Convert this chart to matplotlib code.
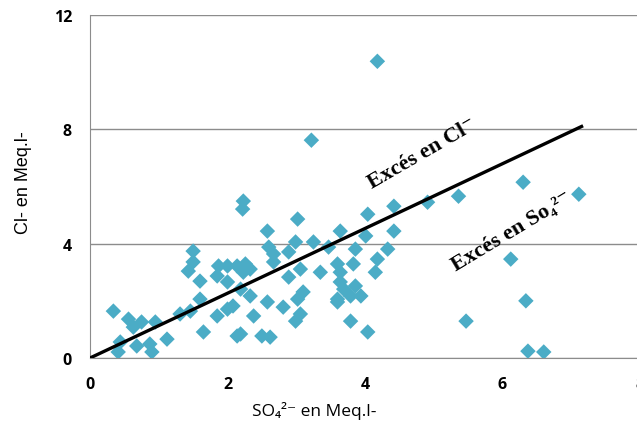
import matplotlib.pyplot as plt
import numpy as np

# SO4 (x) and Cl (y) in Meq/l
so4 = [0.34, 0.56, 0.63, 0.75, 0.95, 0.44, 0.41, 0.68, 0.87, 0.90, 1.12,
       1.31, 1.46, 1.60, 1.65, 1.60, 1.43, 1.50, 1.50, 1.85, 1.87, 2.00,
       2.00, 2.14, 2.23, 1.85, 2.00, 2.08, 2.14, 2.23, 2.22, 3.02, 2.58,
       4.04, 4.42, 3.64, 4.42, 4.01, 2.99, 3.25, 2.60, 2.89, 2.67, 3.47,
       3.86, 4.33, 2.26, 2.33, 2.67, 3.06, 2.89, 3.35, 3.60, 3.64, 3.83,
       4.18, 4.15, 2.33, 2.19, 3.64, 3.86, 3.94, 3.69, 3.79, 3.60, 3.10,
       3.02, 2.58, 2.81, 3.06, 2.99, 2.38, 3.60, 3.79, 4.04, 2.50, 2.62,
       2.19, 3.22, 4.18, 4.91, 5.36, 6.30, 7.11, 6.12, 6.34, 5.47, 6.37,
       6.60]
cl = [1.64, 1.36, 1.08, 1.26, 1.26, 0.56, 0.21, 0.42, 0.49, 0.21, 0.66,
      1.54, 1.64, 2.06, 0.91, 2.69, 3.04, 3.36, 3.74, 2.87, 3.22, 3.22,
      2.66, 3.22, 3.00, 1.47, 1.71, 1.82, 0.77, 5.49, 5.21, 4.86, 4.44,
      5.03, 5.31, 4.44, 4.44, 4.27, 4.06, 4.06, 3.88, 3.71, 3.64, 3.88,
      3.81, 3.81, 3.29, 3.11, 3.36, 3.11, 2.83, 3.00, 3.29, 3.00, 3.29,
      3.46, 3.00, 2.17, 2.41, 2.66, 2.52, 2.17, 2.41, 2.17, 2.06, 2.31,
      2.06, 1.96, 1.78, 1.54, 1.29, 1.47, 1.96, 1.29, 0.91, 0.77, 0.73,
      0.84, 7.62, 10.38, 5.45, 5.66, 6.15, 5.73, 3.46, 2.00, 1.29, 0.24,
      0.21]

# reference line end points
line_x = [0, 7.15]
line_y = [0, 8.1]

fig = plt.figure(figsize=(6.37, 4.27), dpi=100)
ax = fig.add_axes([90 / 637, 68 / 427, 550 / 637, 343 / 427])

ax.scatter(so4, cl, marker='D', s=62, color='#4bacc6', edgecolors='none', zorder=3)
ax.plot(line_x, line_y, color='black', lw=2.4, zorder=4)

ax.set_xlim(0, 8)
ax.set_ylim(0, 12)
ax.set_xticks([0, 2, 4, 6, 8])
ax.set_yticks([0, 4, 8, 12])
ax.tick_params(length=0, labelsize=11.5, pad=13)
for lab in ax.get_xticklabels() + ax.get_yticklabels():
    lab.set_fontweight('bold')
    lab.set_family('Open Sans')
ax.yaxis.grid(True, color='#8c8c8c', lw=1)
ax.set_axisbelow(True)
for s in ['top', 'right']:
    ax.spines[s].set_visible(False)
ax.spines['left'].set_color('#8c8c8c')
ax.spines['bottom'].set_color('#8c8c8c')

sans = ['Open Sans', 'DejaVu Sans']
fig.text(314 / 637, 1 - 411 / 427, 'SO\u2084\u00b2\u207b en Meq.l-', ha='center', va='center',
         fontsize=12.5, family=sans)
fig.text(24 / 637, 1 - 183 / 427, 'Cl- en Meq.l-', ha='center', va='center',
         rotation=90, fontsize=13, family=['Liberation Sans'])

serif = ['Liberation Serif', 'DejaVu Serif']
ax.text(4.83, 7.17, 'Excés en Cl\u207b', rotation=30, ha='center', va='center',
        rotation_mode='anchor', fontsize=16, fontweight='bold', family=serif)
ax.text(6.14, 4.44, 'Excés en So\u2084\u00b2\u207b', rotation=31, ha='center', va='center',
        rotation_mode='anchor', fontsize=16, fontweight='bold', family=serif)

fig.savefig('out.png', dpi=100)
